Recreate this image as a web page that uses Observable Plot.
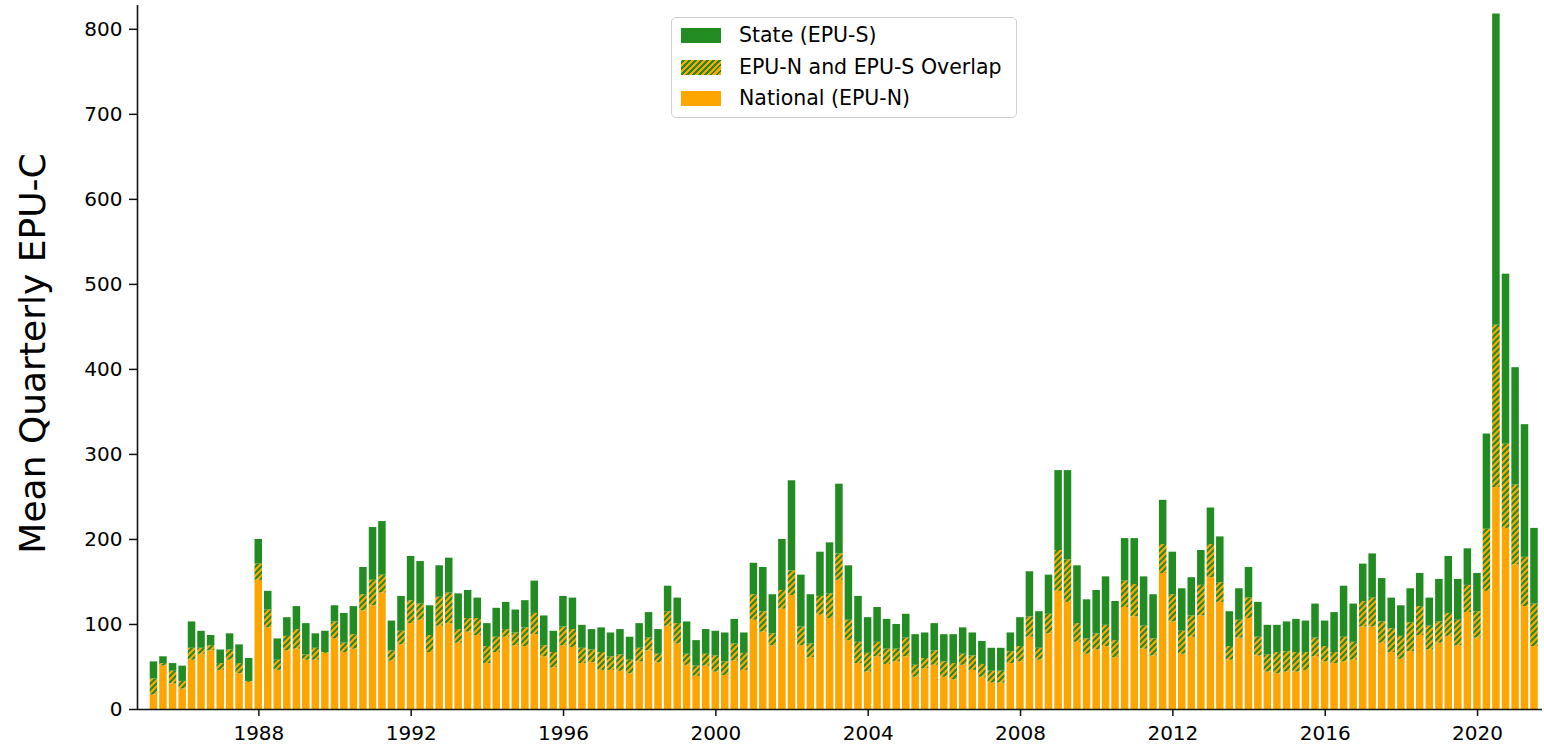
<!DOCTYPE html>
<html>
<head>
<meta charset="utf-8">
<script src="https://cdn.jsdelivr.net/npm/d3@7"></script>
<script src="https://cdn.jsdelivr.net/npm/@observablehq/plot@0.6"></script>
<style>
  html, body { margin: 0; padding: 0; background: #fff; }
  #wrap { position: relative; width: 1544px; height: 747px; font-family: "DejaVu Sans", sans-serif; }
  #wrap svg { display: block; }
  .legend { position: absolute; left: 671px; top: 17px; width: 346px; height: 101px; box-sizing: border-box;
    border: 1px solid #d0d0d0; border-radius: 5px; background: rgba(255,255,255,0.85); }
  .legend .row { position: absolute; left: 9px; height: 15px; display: flex; align-items: center; }
  .legend .sw { width: 40px; height: 15px; flex: none; }
  .legend .lab { margin-left: 18px; font-size: 20.5px; color: #000; white-space: nowrap; line-height: 15px; }
</style>
</head>
<body>
<div id="wrap"></div>
<script>
// ---- Data ----
const firstYear = 1985;   // first bar: 1985 Q1, last bar: 2021 Q2 (146 quarters)
const nQuarters = 146;

const seriesNames = ["State (EPU-S)", "EPU-N and EPU-S Overlap", "National (EPU-N)"];

const nationalOnly = [
  17,51,30,24,58,65,69,46,58,42,
  32,152,96,46,69,71,58,58,66,83,
  67,71,116,122,137,57,76,101,105,67,
  98,101,78,91,87,54,67,85,75,74,
  88,62,49,75,73,54,55,46,46,45,
  42,56,69,55,98,77,52,39,51,44,
  40,57,46,105,91,75,118,134,75,61,
  111,107,152,81,54,44,62,53,56,62,
  38,48,52,38,35,52,46,38,31,31,
  54,56,85,58,89,139,126,79,65,70,
  74,61,120,109,71,63,160,103,65,85,
  110,155,126,58,84,107,63,44,42,44,
  44,46,62,56,54,56,58,97,97,78,
  67,59,68,87,70,78,86,75,114,84,
  139,261,213,170,121,74
];
const overlap = [
  19,3,15,9,14,7,6,8,12,12,
  1,19,21,12,17,23,6,14,1,20,
  11,17,19,30,21,12,16,27,19,20,
  34,36,16,16,20,20,18,9,15,22,
  25,13,18,22,21,18,15,21,16,19,
  16,16,15,10,17,24,13,12,14,19,
  16,20,20,30,24,14,22,29,22,16,
  22,29,31,24,25,22,17,18,15,22,
  14,12,17,18,19,13,17,15,14,14,
  14,18,24,14,23,48,50,22,18,19,
  25,20,31,38,27,20,34,32,27,25,
  36,39,23,16,21,24,22,20,25,24,
  23,21,22,18,13,29,21,30,34,25,
  28,27,34,34,28,25,27,30,32,31,
  73,191,99,94,58,50
];
const stateOnly = [
  20,8,9,18,31,20,12,16,19,22,
  27,29,22,25,22,27,37,17,25,19,
  35,33,32,62,63,35,41,52,50,35,
  37,41,42,33,24,27,34,32,27,32,
  38,35,25,36,37,27,24,29,28,30,
  27,29,30,29,30,30,38,30,29,29,
  34,29,24,37,52,46,60,106,61,58,
  52,60,82,64,54,42,41,35,29,28,
  36,30,32,32,34,31,27,27,27,27,
  22,34,53,43,46,94,105,68,46,51,
  57,46,50,54,58,52,52,50,50,45,
  41,43,54,41,37,36,41,35,32,35,
  39,37,40,30,47,60,45,44,52,51,
  36,36,40,39,33,50,67,48,43,45,
  112,366,200,138,156,89
];

const yTicks = [0,100,200,300,400,500,600,700,800];
const xTickYears = [1988,1992,1996,2000,2004,2008,2012,2016,2020];
const yLabel = "Mean Quarterly EPU-C";

// ---- Build table ----
const quarters = [];
for (let i = 0; i < nQuarters; i++) {
  const y = firstYear + Math.floor(i / 4), q = (i % 4) + 1;
  quarters.push({label: `${y}Q${q}`, date: new Date(Date.UTC(y, 3 * q, 0))}); // quarter-end date
}
const halfWidthDays = 36;
const rows = quarters.map((qt, i) => {
  const n = nationalOnly[i], o = overlap[i], s = stateOnly[i];
  return {
    quarter: qt.label,
    x1: d3.utcDay.offset(qt.date, -halfWidthDays),
    x2: d3.utcDay.offset(qt.date, halfWidthDays),
    nat: [0, n], ovl: [n, n + o], sta: [n + o, n + o + s]
  };
});

const xDomain = [new Date(Date.UTC(1984, 9, 24)), new Date(Date.UTC(2021, 8, 15))];
const xTicks = xTickYears.map(y => new Date(Date.UTC(y, 0, 1)));

const ORANGE = "#FFA500", GREEN = "#228B22";
const axisColor = "#111";

const chart = Plot.plot({
  width: 1544, height: 747,
  marginLeft: 137, marginRight: 2, marginTop: 5, marginBottom: 38,
  style: {fontFamily: "DejaVu Sans", fontSize: "20px", color: "#000", background: "white", overflow: "visible"},
  x: {type: "utc", domain: xDomain},
  y: {domain: [0, 828]},
  marks: [
    Plot.rect(rows, {x1: "x1", x2: "x2", y1: d => d.nat[0], y2: d => d.nat[1], fill: ORANGE}),
    Plot.rect(rows, {x1: "x1", x2: "x2", y1: d => d.ovl[0], y2: d => d.ovl[1], fill: "url(#hatchPat)"}),
    Plot.rect(rows, {x1: "x1", x2: "x2", y1: d => d.sta[0], y2: d => d.sta[1], fill: GREEN}),
    Plot.ruleY([0], {stroke: axisColor, strokeWidth: 1.6}),
    Plot.ruleX([xDomain[0]], {stroke: axisColor, strokeWidth: 1.6}),
    Plot.axisX({ticks: xTicks, tickFormat: "%Y", tickSize: 7, tickPadding: 9, fontSize: 20, label: null, stroke: axisColor, strokeWidth: 1.5}),
    Plot.axisY({ticks: yTicks, tickSize: 8, tickPadding: 7, fontSize: 20, label: null, stroke: axisColor, strokeWidth: 1.5}),
    Plot.text([yLabel], {text: d => d, frameAnchor: "left", textAnchor: "middle", rotate: -90, dx: -104, dy: -4, fontSize: 36, fill: "#000"})
  ]
});

// hatch pattern (orange with green "/" stripes)
const ns = "http://www.w3.org/2000/svg";
const defs = document.createElementNS(ns, "defs");
const pat = document.createElementNS(ns, "pattern");
pat.setAttribute("id", "hatchPat");
pat.setAttribute("patternUnits", "userSpaceOnUse");
pat.setAttribute("width", "6");
pat.setAttribute("height", "6");
const bg = document.createElementNS(ns, "rect");
bg.setAttribute("width", "6"); bg.setAttribute("height", "6"); bg.setAttribute("fill", ORANGE);
const ln = document.createElementNS(ns, "path");
ln.setAttribute("d", "M0,6 L6,0 M-1,1 L1,-1 M5,7 L7,5");
ln.setAttribute("stroke", GREEN); ln.setAttribute("stroke-width", "2");
pat.appendChild(bg); pat.appendChild(ln); defs.appendChild(pat);
chart.insertBefore(defs, chart.firstChild);

const wrap = document.getElementById("wrap");
wrap.appendChild(chart);

// legend (overlay inside the plot area, as in the reference)
const legend = document.createElement("div");
legend.className = "legend";
const swatchFills = [GREEN, null, ORANGE];
const rowTops = [10, 42, 73];
seriesNames.forEach((name, i) => {
  const row = document.createElement("div");
  row.className = "row";
  row.style.top = rowTops[i] + "px";
  const sw = document.createElement("div");
  sw.className = "sw";
  if (swatchFills[i]) sw.style.background = swatchFills[i];
  else sw.style.background = `repeating-linear-gradient(-45deg, ${ORANGE} 0px, ${ORANGE} 2.2px, ${GREEN} 2.2px, ${GREEN} 4.2px)`;
  const lab = document.createElement("span");
  lab.className = "lab";
  lab.textContent = name;
  row.appendChild(sw); row.appendChild(lab);
  legend.appendChild(row);
});
wrap.appendChild(legend);
</script>
</body>
</html>
